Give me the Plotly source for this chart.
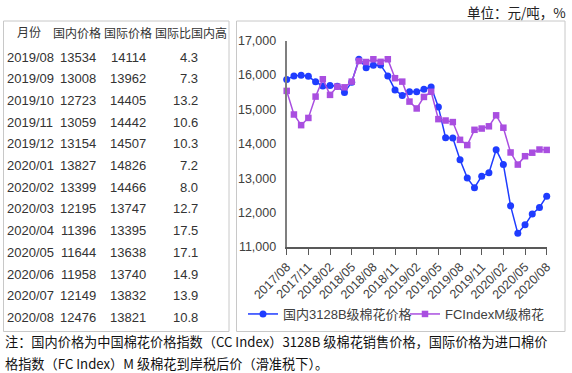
import plotly.graph_objects as go

W, H = 572, 373

months = ["2017/08", "2017/09", "2017/10", "2017/11", "2017/12",
          "2018/01", "2018/02", "2018/03", "2018/04", "2018/05", "2018/06",
          "2018/07", "2018/08", "2018/09", "2018/10", "2018/11", "2018/12",
          "2019/01", "2019/02", "2019/03", "2019/04", "2019/05", "2019/06",
          "2019/07", "2019/08", "2019/09", "2019/10", "2019/11", "2019/12",
          "2020/01", "2020/02", "2020/03", "2020/04", "2020/05", "2020/06",
          "2020/07", "2020/08"]

domestic = [15870, 15970, 15990, 15960, 15800,
            15680, 15690, 15670, 15490, 15790, 16455,
            16210, 16280, 16290, 15970, 15565, 15400,
            15510, 15510, 15585, 15650, 15070, 14175,
            14165, 13534, 13008, 12723, 13059, 13154,
            13827, 13399, 12195, 11396, 11644, 11958,
            12149, 12476]

international = [15536, 14850, 14540, 14750, 15370,
                 15875, 15420, 15660, 15640, 15805, 16405,
                 16375, 16455, 16380, 16455, 15905, 15805,
                 15225, 15025, 15360, 15510, 14715, 14675,
                 14630, 14114, 13962, 14405, 14442, 14507,
                 14826, 14466, 13747, 13395, 13638, 13740,
                 13832, 13821]

tick_labels = ["2017/08", "2017/11", "2018/02", "2018/05", "2018/08",
               "2018/11", "2019/02", "2019/05", "2019/08", "2019/11",
               "2020/02", "2020/05", "2020/08"]

# table data
table_header = ["月份", "国内价格", "国际价格", "国际比国内高"]
table_months = ["2019/08", "2019/09", "2019/10", "2019/11", "2019/12",
                "2020/01", "2020/02", "2020/03", "2020/04", "2020/05",
                "2020/06", "2020/07", "2020/08"]
table_domestic = [13534, 13008, 12723, 13059, 13154, 13827, 13399,
                  12195, 11396, 11644, 11958, 12149, 12476]
table_intl = [14114, 13962, 14405, 14442, 14507, 14826, 14466,
              13747, 13395, 13638, 13740, 13832, 13821]
table_diff = [4.3, 7.3, 13.2, 10.6, 10.3, 7.2, 8.0,
              12.7, 17.5, 17.1, 14.9, 13.9, 10.8]

series_names = ["国内3128B级棉花价格", "FCIndexM级棉花"]
unit_text = "单位：元/吨，%"
note_lines = ["注：国内价格为中国棉花价格指数（CC Index）3128B 级棉花销售价格，国际价格为进口棉价",
              "格指数（FC Index）M 级棉花到岸税后价（滑准税下）。"]

BLUE = "#1f3cff"
PURPLE = "#a94ee0"
SANS = "Liberation Sans, Noto Sans CJK SC, sans-serif"
CJK = "Noto Sans CJK SC, sans-serif"

x_idx = list(range(len(months)))

fig = go.Figure()
fig.add_trace(go.Scatter(
    x=x_idx, y=domestic, name=series_names[0], mode="lines+markers",
    line=dict(color=BLUE, width=1.5),
    marker=dict(symbol="circle", size=7, color=BLUE),
    cliponaxis=False))
fig.add_trace(go.Scatter(
    x=x_idx, y=international, name=series_names[1], mode="lines+markers",
    line=dict(color=PURPLE, width=1.5),
    marker=dict(symbol="square", size=6.5, color=PURPLE),
    cliponaxis=False))

# pixel helpers (paper coords == pixels since margins are zero)
def px(x):
    return x / W

def py(y):
    return 1 - y / H

x0, x1 = 286.7, 546.7
ytop, ybot = 40.5, 247

tick_pos = [months.index(t) for t in tick_labels]

fig.update_layout(
    width=W, height=H,
    margin=dict(l=0, r=0, t=0, b=0, pad=0, autoexpand=False),
    paper_bgcolor="white", plot_bgcolor="white",
    showlegend=True,
    legend=dict(orientation="h", x=px(243), y=py(314), xanchor="left",
                yanchor="middle", font=dict(family=SANS, size=13, color="#404040"),
                itemwidth=30, entrywidth=117, entrywidthmode="pixels",
                bgcolor="rgba(0,0,0,0)"),
    xaxis=dict(domain=[px(x0), px(x1)], range=[0, 36], automargin=False,
               tickmode="array", tickvals=tick_pos, ticktext=tick_labels,
               tickangle=-45, ticks="outside", ticklen=6, tickwidth=1.2,
               tickcolor="#595959", showgrid=False, zeroline=False,
               showline=True, linecolor="#595959", linewidth=1.5,
               tickfont=dict(family=SANS, size=12.5, color="#404040")),
    yaxis=dict(domain=[py(ybot), py(ytop)], range=[11000, 17000], automargin=False,
               tickvals=[11000, 12000, 13000, 14000, 15000, 16000, 17000],
               tickformat=",d", showgrid=False, zeroline=False,
               showline=True, linecolor="#7f7f7f", linewidth=2,
               ticks="", ticklabelstandoff=6,
               tickfont=dict(family=SANS, size=12.5, color="#404040")),
)

# boxes
fig.add_shape(type="rect", xref="paper", yref="paper",
              x0=px(3.5), x1=px(229), y0=py(331.5), y1=py(21),
              line=dict(color="#c8c8c8", width=1))
fig.add_shape(type="rect", xref="paper", yref="paper",
              x0=px(236.5), x1=px(565), y0=py(331.5), y1=py(21),
              line=dict(color="#c8c8c8", width=1))

ann = []
# unit text
ann.append(dict(text=unit_text, x=px(568), y=py(12), xref="paper", yref="paper",
                xanchor="right", yanchor="middle", showarrow=False,
                font=dict(family=CJK, size=13.5, color="#222")))

# table header
header_y = 33.5
header_x = [(29, "center"), (77, "center"), (128, "center"), (191, "center")]
for (hx, anc), t in zip(header_x, table_header):
    ann.append(dict(text=t, x=px(hx), y=py(header_y), xref="paper", yref="paper",
                    xanchor=anc, yanchor="middle", showarrow=False,
                    font=dict(family=SANS, size=12, color="#333")))

row0, row_gap = 57, 21.7
for i in range(len(table_months)):
    yy = py(row0 + i * row_gap)
    cells = [(table_months[i], 5, "left"),
             (str(table_domestic[i]), 78, "center"),
             (str(table_intl[i]), 128, "center"),
             (f"{table_diff[i]:.1f}", 199.5, "right")]
    for t, cx, anc in cells:
        ann.append(dict(text=t, x=px(cx), y=yy, xref="paper", yref="paper",
                        xanchor=anc, yanchor="middle", showarrow=False,
                        font=dict(family=SANS, size=13, color="#333")))

# note lines
for k, line in enumerate(note_lines):
    ann.append(dict(text=line, x=px(3), y=py(341.5 + k * 21.5), xref="paper",
                    yref="paper", xanchor="left", yanchor="middle", showarrow=False,
                    font=dict(family=CJK, size=13.2, color="#111")))

fig.update_layout(annotations=ann)

fig.write_html("out.html", config={"displayModeBar": False},
               post_script="document.body.style.margin='0';document.body.style.overflow='hidden';")
